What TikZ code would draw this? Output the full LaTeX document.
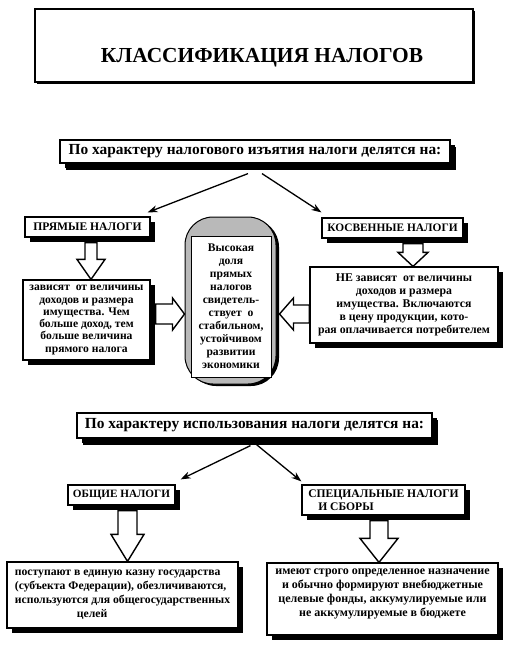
\documentclass[tikz,border=0pt]{standalone}
\usepackage{fontspec}
\setmainfont{Liberation Serif}
\usetikzlibrary{calc,shadows,arrows.meta}
\newcommand\hollowarr[5]{%
  \coordinate (hb) at ($(#2)!#5pt!(#1)$);
  \draw[hollow] ($(#1)!#3pt!90:(#2)$) -- ($(hb)!#3pt!-90:(#1)$) -- ($(hb)!#4pt!-90:(#1)$) -- (#2) -- ($(hb)!#4pt!90:(#1)$) -- ($(hb)!#3pt!90:(#1)$) -- ($(#1)!#3pt!-90:(#2)$) -- cycle;}
\tikzset{
  box/.style={draw, line width=1.2pt, fill=white, inner sep=0pt, align=center,
    drop shadow={shadow xshift=5pt, shadow yshift=-5pt, fill=black, opacity=1}},
  bigshadow/.style={drop shadow={shadow xshift=6pt, shadow yshift=-7pt, fill=black, opacity=1}},
  headfont/.style={font=\bfseries\fontsize{15.4}{17}\selectfont},
  capfont/.style={font=\bfseries\fontsize{11.6}{13}\selectfont},
  bodyfont/.style={font=\bfseries\fontsize{11.7}{12.6}\selectfont},
  hollow/.style={draw, fill=white, line width=1.4pt, line join=miter},
  conn/.style={draw, line width=1.3pt, -{Stealth[length=10pt, width=7pt]}},
}
\begin{document}
\begin{tikzpicture}[x=1pt, y=-1pt]
\useasboundingbox (0,0) rectangle (506,659);
% title
\node[draw, line width=2.8pt, minimum width=438, minimum height=73, inner sep=0pt,
  drop shadow={shadow xshift=1.5pt, shadow yshift=-1.5pt, fill=black, opacity=1}, fill=white] (tb) at (254,45.5) {};
\node[font=\bfseries\fontsize{21.4}{24}\selectfont, inner sep=0pt] (tt) at (262,58) {КЛАССИФИКАЦИЯ НАЛОГОВ};
% heading 1
\node[box, bigshadow, headfont, minimum width=390, minimum height=23] (h1) at (255,151.5) {По характеру налогового изъятия налоги делятся на:};
\node[box, capfont, minimum width=125, minimum height=20] (pr) at (87.5,227) {ПРЯМЫЕ НАЛОГИ};
\node[box, capfont, font=\bfseries\fontsize{11.4}{13}\selectfont, minimum width=141, minimum height=20] (kos) at (392.5,228) {КОСВЕННЫЕ НАЛОГИ};
\node[box, bodyfont, font=\bfseries\fontsize{11.6}{12.3}\selectfont, minimum width=127, minimum height=80] (lt) at (86.5,320) {зависят\ \ от величины\\доходов и размера\\имущества. Чем\\больше доход, тем\\больше величина\\прямого налога};
\node[box, bodyfont, font=\bfseries\fontsize{11.8}{13}\selectfont, minimum width=188, minimum height=76] (rt) at (404,305) {НЕ зависят\ \ от величины\\доходов и размера\\имущества. Включаются\\в цену продукции, кото-\\рая оплачивается потребителем};
% capsule
\node[draw, line width=1pt, fill=gray!55, rounded corners=28pt, minimum width=91, minimum height=167,
  drop shadow={shadow xshift=3pt, shadow yshift=-2pt, fill=black, opacity=1}] (cap) at (230.5,300.5) {};
\node[draw, line width=0.6pt, fill=white, minimum width=80, minimum height=141, inner sep=0pt, align=center,
  font=\bfseries\fontsize{11.6}{13}\selectfont] (capin) at (231,306.5) {Высокая\\доля\\прямых\\налогов\\свидетель-\\ствует\ \ о\\стабильном,\\устойчивом\\развитии\\экономики};
% heading 2
\node[box, bigshadow, headfont, minimum width=355, minimum height=25] (h2) at (254.5,425.5) {По характеру использования налоги делятся на:};
\node[box, font=\bfseries\fontsize{11.2}{12}\selectfont, minimum width=107, minimum height=20] (ob) at (121.5,495) {ОБЩИЕ НАЛОГИ};
\node[box, font=\bfseries\fontsize{11.6}{13.5}\selectfont, minimum width=163, minimum height=30, align=left] (sp) at (383.5,500) {СПЕЦИАЛЬНЫЕ НАЛОГИ\\\hspace*{10pt}И СБОРЫ};
\node[box, bodyfont, font=\bfseries\fontsize{11.7}{14}\selectfont, minimum width=231, minimum height=66, align=left] (lb) at (122.5,595) {поступают в единую казну государства\\(субъекта Федерации), обезличиваются,\\используются для общегосударственных\\\hspace*{62pt}целей};
\node[box, minimum width=231, minimum height=72] (rb) at (382.5,599) {};
\node[font=\bfseries\fontsize{12}{14}\selectfont, align=center, anchor=north, inner sep=0pt] (rbt) at ($(rb.north)+(0,6)$) {имеют строго определенное назначение\\и обычно формируют внебюджетные\\целевые фонды, аккумулируемые или\\не аккумулируемые в бюджете};
% thin connectors
\draw[conn] ($(h1.south)+(-7,10)$) -- ($(pr.north east)+(-3,-4)$);
\draw[conn] ($(h1.south)+(7,10)$) -- ($(kos.north west)+(0,-5)$);
\draw[conn] ($(h2.south)+(-4,7)$) -- ($(ob.north east)+(5,-5)$);
\draw[conn] ($(h2.south)+(2,6)$) -- ($(sp.north west)+(0,-3)$);
% hollow arrows
\coordinate (a1s) at ($(pr.south)+(3.5,5)$);
\hollowarr{a1s}{a1s |- lt.north}{6}{14}{20}
\coordinate (a2s) at ($(kos.south)+(20.5,5)$);
\hollowarr{a2s}{a2s |- rt.north}{10}{15}{14}
\coordinate (yr) at (0,314);
\coordinate (a3s) at ($(lt.east |- yr)+(5,0)$);
\hollowarr{a3s}{cap.west |- yr}{10}{16}{12}
\coordinate (a4s) at (rt.west |- yr);
\coordinate (a4t) at ($(cap.east |- yr)+(3,0)$);
\hollowarr{a4s}{a4t}{9}{16}{14}
\coordinate (a5s) at ($(ob.south)+(6,5)$);
\hollowarr{a5s}{a5s |- lb.north}{9.5}{16.5}{27}
\coordinate (a6s) at ($(sp.south)+(-4.5,5)$);
\hollowarr{a6s}{a6s |- rb.north}{9}{19}{24}
\end{tikzpicture}
\end{document}
